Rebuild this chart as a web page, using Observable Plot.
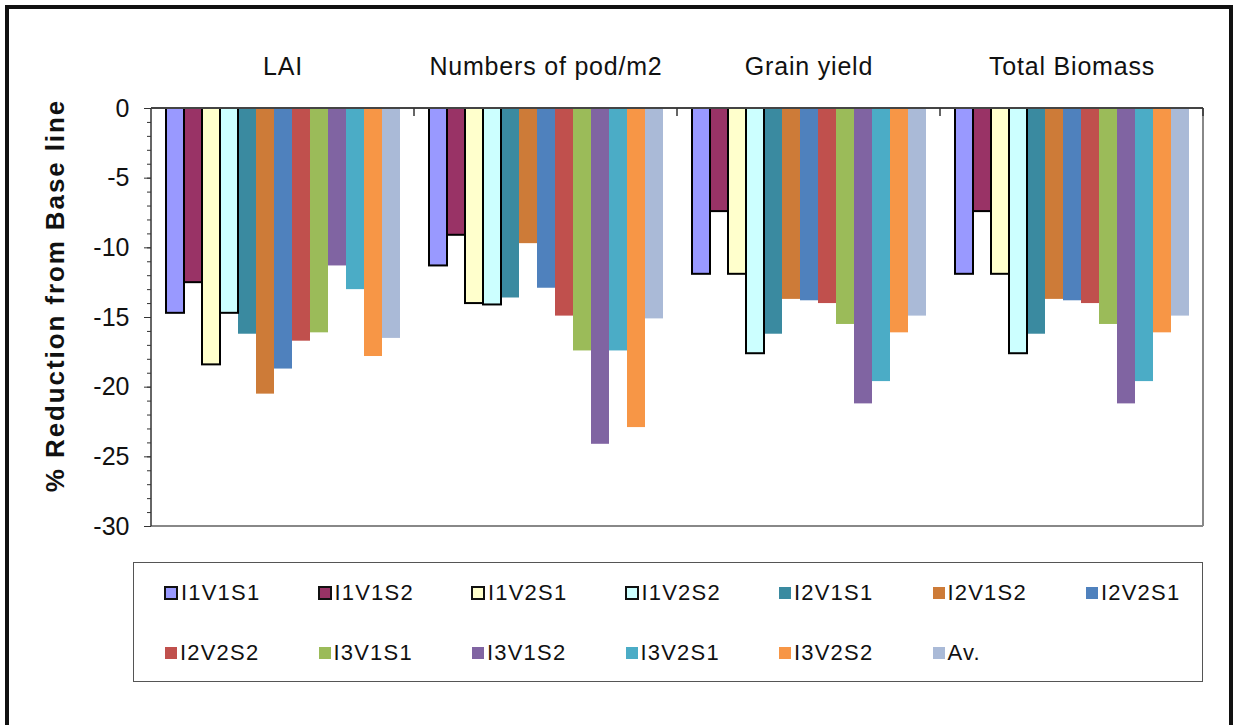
<!DOCTYPE html>
<html><head><meta charset="utf-8">
<script src="https://cdn.jsdelivr.net/npm/d3@7"></script>
<script src="https://cdn.jsdelivr.net/npm/@observablehq/plot@0.6"></script>
<style>
body{margin:0;background:#fff;font-family:"Liberation Sans",Arial,sans-serif;}
#frame{position:absolute;left:5px;top:5px;width:1228px;height:740px;border:4px solid #111;box-sizing:border-box;}
#chart{position:absolute;left:0;top:0;}
#legend{position:absolute;left:133px;top:562px;width:1070px;height:120px;border:1.5px solid #555;box-sizing:border-box;background:#fff;}
.item{position:absolute;display:flex;align-items:center;font-size:22px;letter-spacing:1.2px;color:#111;line-height:1;transform:translateY(-50%);}
.sw{width:12px;height:12px;margin-right:3px;box-sizing:border-box;}
</style></head><body>
<div id="frame"></div><div id="chart"></div><div id="legend"></div>
<script>
const groups = ["LAI", "Numbers of pod/m2", "Grain yield", "Total Biomass"];
const series = ["I1V1S1","I1V1S2","I1V2S1","I1V2S2","I2V1S1","I2V1S2","I2V2S1","I2V2S2","I3V1S1","I3V1S2","I3V2S1","I3V2S2","Av."];
const colors = ["#9999FF","#993366","#FFFFCC","#CCFFFF","#3A8AA0","#CD7B38","#4F81BD","#C0504D","#9BBB59","#8064A2","#4BACC6","#F79646","#AABAD7"];
const outlined = ["I1V1S1","I1V1S2","I1V2S1","I1V2S2"];
const laiValues     = [-14.7,-12.5,-18.4,-14.7,-16.2,-20.5,-18.7,-16.7,-16.1,-11.3,-13.0,-17.8,-16.5];
const podValues     = [-11.3,-9.1,-14.0,-14.1,-13.6,-9.7,-12.9,-14.9,-17.4,-24.1,-17.4,-22.9,-15.1];
const grainValues   = [-11.9,-7.4,-11.9,-17.6,-16.2,-13.7,-13.8,-14.0,-15.5,-21.2,-19.6,-16.1,-14.9];
const biomassValues = [-11.9,-7.4,-11.9,-17.6,-16.2,-13.7,-13.8,-14.0,-15.5,-21.2,-19.6,-16.1,-14.9];
const yMajorTicks = [0,-5,-10,-15,-20,-25,-30];
const yMinorTicks = d3.range(-30, 1, 1);
const yTitle = "% Reduction from Base line";

const valueLists = [laiValues, podValues, grainValues, biomassValues];
const data = groups.flatMap((g, gi) => series.map((s, si) => ({group: g, series: s, value: valueLists[gi][si]})));

const plot = Plot.plot({
  width: 1233, height: 540,
  marginTop: 108, marginBottom: 14, marginLeft: 150, marginRight: 30,
  style: {fontFamily: '"Liberation Sans", Arial, sans-serif', color: "#111", background: "transparent"},
  fx: {domain: groups, padding: 0},
  x: {domain: series, padding: 0, insetLeft: 13.2, insetRight: 13.2, axis: null},
  y: {domain: [-30, 0]},
  color: {domain: series, range: colors},
  marks: [
    Plot.barY(data, {fx: "group", x: "series", y: "value", fill: "series"}),
    Plot.barY(data.filter(d => outlined.includes(d.series)), {fx: "group", x: "series", y: "value", fill: "none", stroke: "#000", strokeWidth: 2}),
    Plot.axisFx({anchor: "top", tickSize: 0, tickPadding: 34, fontSize: 25, label: null}),
    Plot.axisY({anchor: "left", ticks: yMinorTicks, tickSize: 4, text: null, label: null, stroke: "#333"}),
    Plot.axisY({anchor: "left", ticks: yMajorTicks, tickSize: 7, tickPadding: 15, fontSize: 25, tickFormat: d => String(d),
      label: yTitle, labelArrow: "none", labelAnchor: "center", labelOffset: 106, stroke: "#333"})
  ]
});
plot.querySelectorAll('g[aria-label="y-axis label"] text').forEach(t => {
  t.textContent = yTitle;
  t.setAttribute("dx", "22");
  t.style.fontWeight = "bold"; t.style.fontSize = "26px"; t.style.letterSpacing = "1.9px";
});
plot.querySelectorAll('g[aria-label="fx-axis tick label"] text').forEach(t => { t.style.letterSpacing = "0.8px"; });
document.getElementById("chart").appendChild(plot);

// frame lines & category boundary ticks via scales
const svg = d3.select(plot);
const ys = plot.scale("y"), fxs = plot.scale("fx");
const y0 = ys.apply(0), yB = ys.apply(-30);
const left = fxs.apply(groups[0]), right = fxs.apply(groups[groups.length - 1]) + fxs.bandwidth;
const g = svg.append("g");
g.append("line").attr("x1", right).attr("x2", right).attr("y1", y0).attr("y2", yB).attr("stroke", "#888").attr("stroke-width", 2);
g.append("line").attr("x1", left).attr("x2", right).attr("y1", yB).attr("y2", yB).attr("stroke", "#888").attr("stroke-width", 2);
g.append("line").attr("x1", left).attr("x2", left).attr("y1", y0).attr("y2", yB).attr("stroke", "#333").attr("stroke-width", 1.5);
g.append("line").attr("x1", left).attr("x2", right).attr("y1", y0).attr("y2", y0).attr("stroke", "#444").attr("stroke-width", 2);
groups.slice(1).forEach(gr => {
  const bx = fxs.apply(gr);
  g.append("line").attr("x1", bx).attr("x2", bx).attr("y1", y0).attr("y2", y0 + 8).attr("stroke", "#333").attr("stroke-width", 1.5);
});
g.append("line").attr("x1", right).attr("x2", right).attr("y1", y0).attr("y2", y0 + 8).attr("stroke", "#333").attr("stroke-width", 1.5);

// legend
const legend = document.getElementById("legend");
series.forEach((s, i) => {
  const row = Math.floor(i / 7), col = i % 7;
  const item = document.createElement("div");
  item.className = "item";
  item.style.left = (30 + col * 153.5) + "px";
  item.style.top = (30 + row * 60) + "px";
  const sw = document.createElement("div");
  sw.className = "sw";
  sw.style.background = colors[i];
  if (outlined.includes(s)) { sw.style.border = "2.5px solid #111"; sw.style.width = "14px"; sw.style.height = "14px"; }
  else { sw.style.marginLeft = "1px"; }
  const tx = document.createElement("span");
  tx.textContent = s;
  item.appendChild(sw); item.appendChild(tx);
  legend.appendChild(item);
});
</script>
</body></html>
